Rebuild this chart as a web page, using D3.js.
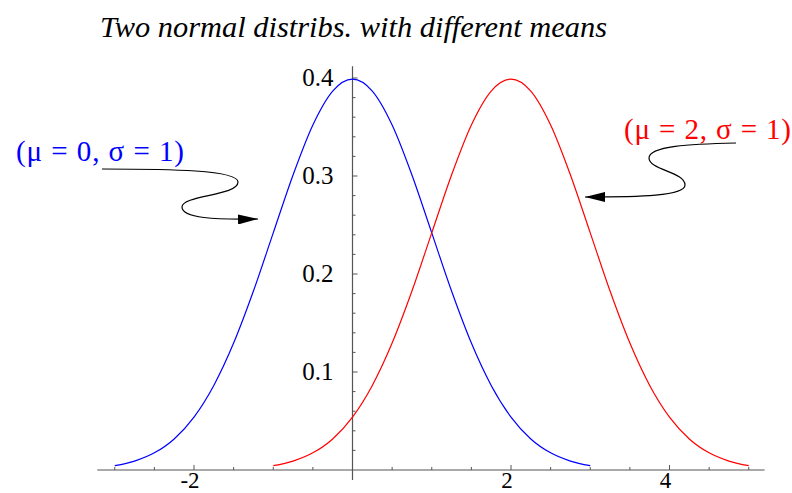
<!DOCTYPE html>
<html>
<head>
<meta charset="utf-8">
<script src="https://cdn.jsdelivr.net/npm/d3@7"></script>
<style>
  body { margin: 0; background: #fff; }
</style>
</head>
<body>
<div id="chart"></div>
<script>
// values (density at each x)
var blueX = [-3, -2.75, -2.5, -2.25, -2, -1.75, -1.5, -1.25, -1, -0.75, -0.5, -0.25, 0,
             0.25, 0.5, 0.75, 1, 1.25, 1.5, 1.75, 2, 2.25, 2.5, 2.75, 3];
var blueY = [0.0044, 0.0091, 0.0175, 0.0317, 0.054, 0.0863, 0.1295, 0.1826, 0.242, 0.3011, 0.3521, 0.3867, 0.3989,
             0.3867, 0.3521, 0.3011, 0.242, 0.1826, 0.1295, 0.0863, 0.054, 0.0317, 0.0175, 0.0091, 0.0044];
var redX = [-1, -0.75, -0.5, -0.25, 0, 0.25, 0.5, 0.75, 1, 1.25, 1.5, 1.75, 2,
            2.25, 2.5, 2.75, 3, 3.25, 3.5, 3.75, 4, 4.25, 4.5, 4.75, 5];
var redY = [0.0044, 0.0091, 0.0175, 0.0317, 0.054, 0.0863, 0.1295, 0.1826, 0.242, 0.3011, 0.3521, 0.3867, 0.3989,
            0.3867, 0.3521, 0.3011, 0.242, 0.1826, 0.1295, 0.0863, 0.054, 0.0317, 0.0175, 0.0091, 0.0044];

var xMajor = [-2, 2, 4];
var xMinor = [-3, -2.5, -1.5, -1, -0.5, 0.5, 1, 1.5, 2.5, 3, 3.5, 4.5, 5];
var yMajor = [0.1, 0.2, 0.3, 0.4];

var title = "Two normal distribs. with different means";
var blueLabel = "(\u03bc = 0, \u03c3 = 1)";
var redLabel = "(\u03bc = 2, \u03c3 = 1)";

var width = 792, height = 493;
var serif = "'Liberation Serif', 'Times New Roman', Times, serif";

var svg = d3.select("#chart").append("svg")
  .attr("width", width).attr("height", height)
  .style("font-family", serif);

var x = d3.scaleLinear().domain([0, 2]).range([352.5, 511]);
var y = d3.scaleLinear().domain([0, 0.4]).range([470, 78]);

var axisColor = "#555";

// x axis
svg.append("line")
  .attr("x1", x(-3.22)).attr("x2", x(5.2))
  .attr("y1", y(0)).attr("y2", y(0))
  .attr("stroke", axisColor).attr("stroke-width", 1.2);

svg.selectAll(".xmaj").data(xMajor).enter().append("line")
  .attr("x1", function (d) { return x(d); }).attr("x2", function (d) { return x(d); })
  .attr("y1", y(0)).attr("y2", y(0) - 5)
  .attr("stroke", axisColor);
svg.selectAll(".xmin").data(xMinor).enter().append("line")
  .attr("x1", function (d) { return x(d); }).attr("x2", function (d) { return x(d); })
  .attr("y1", y(0)).attr("y2", y(0) - 3)
  .attr("stroke", axisColor);
svg.selectAll(".xlab").data(xMajor).enter().append("text")
  .attr("x", function (d) { return x(d) - 4; })
  .attr("y", y(0) + 18)
  .attr("text-anchor", "middle")
  .style("font-family", serif)
  .style("font-size", "23px")
  .text(function (d) { return d; });

// y axis
svg.append("line")
  .attr("x1", x(0)).attr("x2", x(0))
  .attr("y1", y(0.412)).attr("y2", y(0) + 10)
  .attr("stroke", axisColor).attr("stroke-width", 1.2);

var yMinor = d3.range(1, 21).map(function (i) { return i * 0.02; })
  .filter(function (v) { return Math.abs(v * 10 - Math.round(v * 10)) > 1e-6; });
svg.selectAll(".ymin").data(yMinor).enter().append("line")
  .attr("x1", x(0)).attr("x2", x(0) + 3)
  .attr("y1", function (d) { return y(d); }).attr("y2", function (d) { return y(d); })
  .attr("stroke", axisColor);
svg.selectAll(".ymaj").data(yMajor).enter().append("line")
  .attr("x1", x(0)).attr("x2", x(0) + 5)
  .attr("y1", function (d) { return y(d); }).attr("y2", function (d) { return y(d); })
  .attr("stroke", axisColor);
svg.selectAll(".ylab").data(yMajor).enter().append("text")
  .attr("x", x(0) - 19)
  .attr("y", function (d) { return y(d) + 8; })
  .attr("text-anchor", "end")
  .style("font-family", serif)
  .style("font-size", "25px")
  .text(function (d) { return d3.format(".1f")(d); });

// curves
var line = d3.line()
  .curve(d3.curveMonotoneX)
  .x(function (d) { return x(d[0]); })
  .y(function (d) { return y(d[1]); });

svg.append("path")
  .attr("d", line(d3.zip(blueX, blueY)))
  .attr("fill", "none").attr("stroke", "#0000ff").attr("stroke-width", 1.2);
svg.append("path")
  .attr("d", line(d3.zip(redX, redY)))
  .attr("fill", "none").attr("stroke", "#ff0000").attr("stroke-width", 1.2);

// title
svg.append("text")
  .attr("x", 100).attr("y", 37)
  .attr("textLength", 507).attr("lengthAdjust", "spacingAndGlyphs")
  .style("font-family", serif)
  .style("font-size", "30px").style("font-style", "italic")
  .text(title);

// labels
svg.append("text")
  .attr("x", 16).attr("y", 161)
  .attr("textLength", 168).attr("lengthAdjust", "spacing")
  .attr("fill", "#0000ff")
  .style("font-family", serif)
  .style("font-size", "29px")
  .text(blueLabel);
svg.append("text")
  .attr("x", 624).attr("y", 139)
  .attr("textLength", 167).attr("lengthAdjust", "spacing")
  .attr("fill", "#ff0000")
  .style("font-family", serif)
  .style("font-size", "29px")
  .text(redLabel);

// squiggly arrows
svg.append("defs").append("marker")
  .attr("id", "head").attr("viewBox", "0 0 20 10")
  .attr("refX", 20).attr("refY", 5)
  .attr("markerWidth", 20).attr("markerHeight", 10)
  .attr("markerUnits", "userSpaceOnUse")
  .attr("orient", "auto")
  .append("path").attr("d", "M0,0 L20,5 L0,10 Z").attr("fill", "#000");

svg.append("path")
  .attr("d", "M102,169 C170,169 238,170 238,182 C238,196 182,195 182,207 C182,218 215,220 258,219")
  .attr("fill", "none").attr("stroke", "#000").attr("stroke-width", 1.2)
  .attr("marker-end", "url(#head)");

svg.append("path")
  .attr("d", "M736,143 C690,144 649,146 649,158 C649,170 685,172 685,185 C685,196 640,197 585,197")
  .attr("fill", "none").attr("stroke", "#000").attr("stroke-width", 1.2)
  .attr("marker-end", "url(#head)");
</script>
</body>
</html>
